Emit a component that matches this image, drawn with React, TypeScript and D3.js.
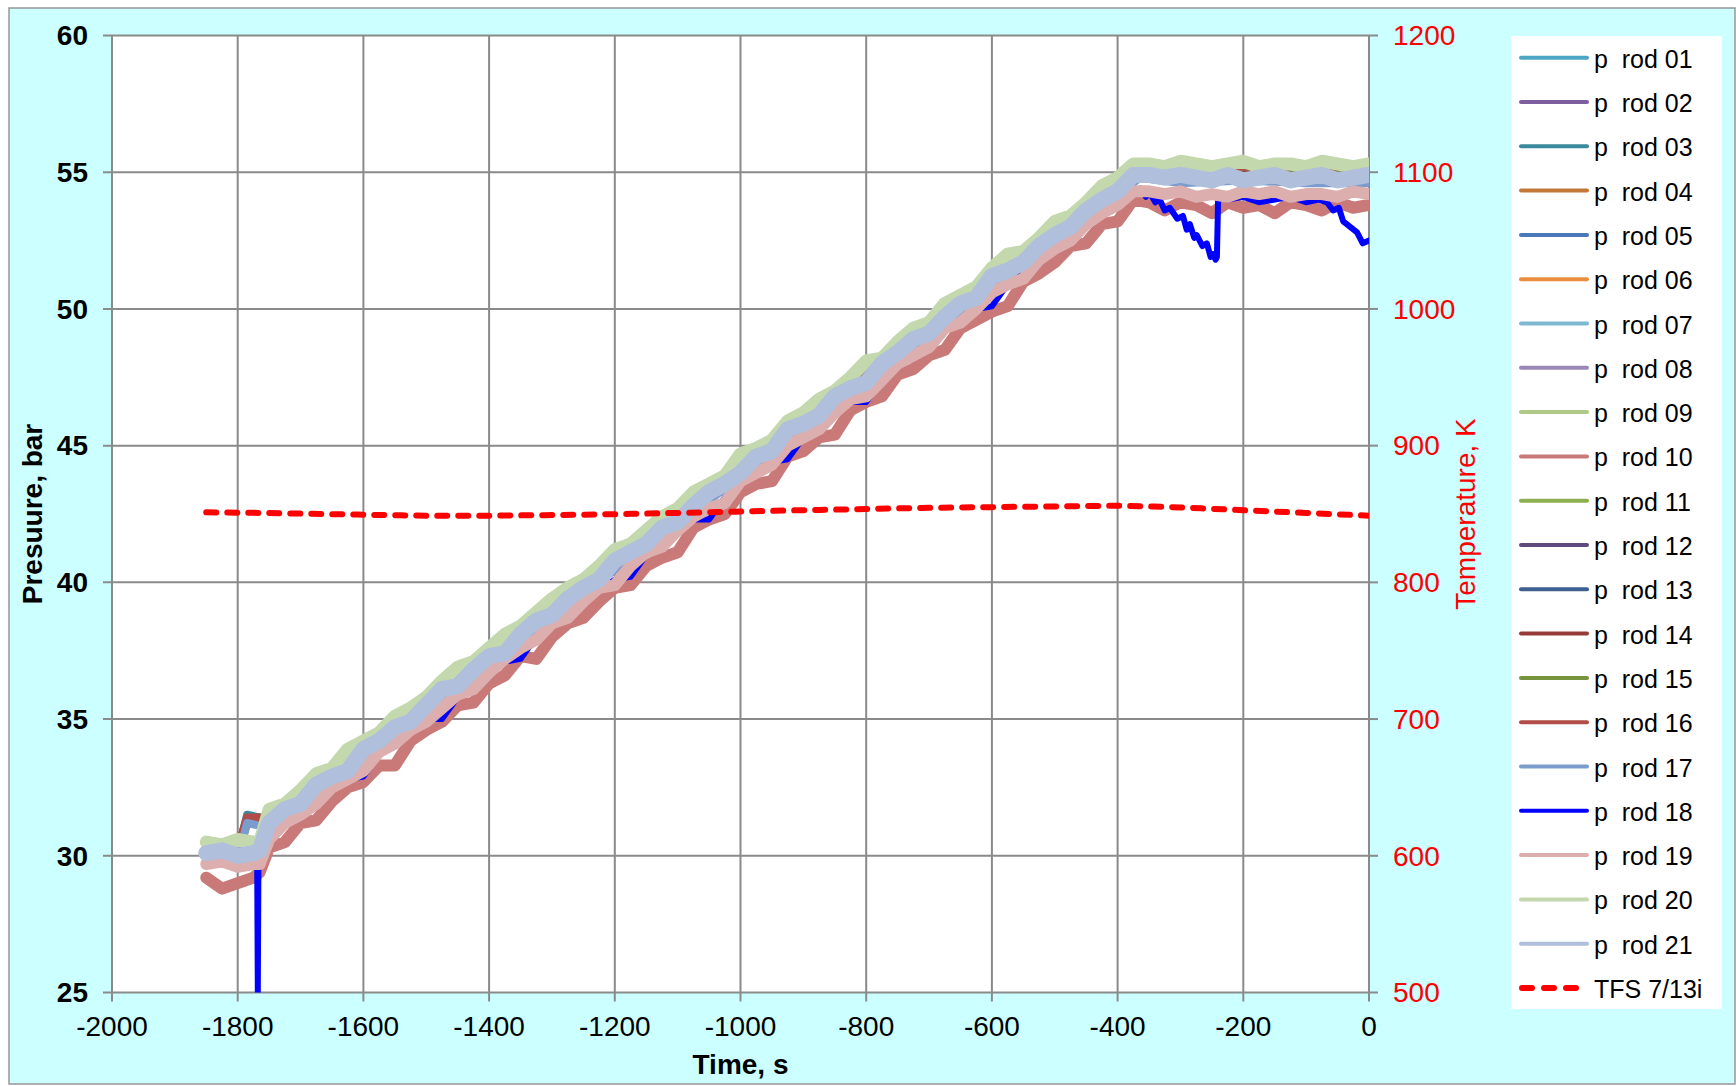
import React from "react";
import * as d3 from "d3";

// ---- canvas / plot frame -------------------------------------------------
const WIDTH = 1736;
const HEIGHT = 1086;
const PLOT = { left: 112, right: 1369, top: 35.5, bottom: 992.5 };
const FONT = "'Liberation Sans', Arial, Helvetica, sans-serif";

// ---- axes ----------------------------------------------------------------
const TIME_DOMAIN: [number, number] = [-2000, 0];
const PRESSURE_DOMAIN: [number, number] = [25, 60];
const TEMPERATURE_DOMAIN: [number, number] = [500, 1200];
const TIME_TICKS = [-2000, -1800, -1600, -1400, -1200, -1000, -800, -600, -400, -200, 0];
const PRESSURE_TICKS = [25, 30, 35, 40, 45, 50, 55, 60];
const TEMPERATURE_TICKS = [500, 600, 700, 800, 900, 1000, 1100, 1200];

// ---- sample times (s) ----------------------------------------------------
const FINE_TIMES = [-1850, -1825, -1800, -1775, -1765, ...d3.range(-1750, 1, 25)];
const COARSE_TIMES = [
  -1850, -1800, -1785, -1765, -1750, -1650, -1550, -1450, -1350, -1250, -1150, -1050,
  -950, -850, -750, -650, -550, -450, -364, -300, -200, -100, 0,
];
const ROD18_TIMES = [
  -1850, -1825, -1800, -1775, -1769, -1768, -1767, -1765,
  ...d3.range(-1750, -374, 25),
  -364, -355, -350, -340, -333, -325, -317, -305, -296, -290, -285, -278, -274, -265,
  -258, -252, -248, -244, -242, -240, -225, -200, -175, -150, -125, -100, -80, -67,
  -57, -48, -41, -30, -19, -10, 0,
];
const TFS_TIMES = d3.range(-1850, 1, 50);

// ---- rod internal pressures (bar) ----------------------------------------
const ROD_01 = [30.2,30.2,31.4,31.4,31.3,33.0,34.7,36.4,38.2,39.9,41.6,43.3,45.0,46.8,48.5,50.2,51.9,53.6,55.1,55.0,55.1,55.0,55.0];
const ROD_02 = [30.1,30.0,30.1,30.1,31.2,32.9,34.6,36.3,38.1,39.8,41.5,43.2,44.9,46.7,48.4,50.1,51.8,53.5,55.0,54.8,54.9,54.8,54.9];
const ROD_03 = [30.2,30.1,31.5,31.4,31.3,33.0,34.7,36.4,38.2,39.9,41.6,43.3,45.0,46.8,48.5,50.2,51.9,53.6,55.1,55.0,55.2,55.0,55.1];
const ROD_04 = [30.3,30.3,30.3,30.3,31.4,33.1,34.8,36.5,38.3,40.0,41.7,43.4,45.1,46.9,48.6,50.3,52.0,53.7,55.2,55.2,55.3,55.2,55.2];
const ROD_05 = [30.1,30.0,31.2,31.2,31.2,32.9,34.6,36.3,38.1,39.8,41.5,43.2,44.9,46.7,48.4,50.1,51.8,53.5,55.0,54.8,54.9,54.8,54.8];
const ROD_06 = [30.3,30.2,30.3,30.3,31.4,33.1,34.8,36.5,38.3,40.0,41.7,43.4,45.1,46.9,48.6,50.3,52.0,53.7,55.2,55.1,55.2,55.2,55.3];
const ROD_07 = [30.0,30.1,30.1,30.0,31.2,32.9,34.6,36.3,38.1,39.8,41.5,43.2,44.9,46.7,48.4,50.1,51.8,53.5,55.0,54.9,54.8,54.9,54.8];
const ROD_08 = [30.1,30.1,30.0,30.1,31.1,32.9,34.6,36.3,38.0,39.8,41.5,43.2,44.9,46.6,48.4,50.1,51.8,53.5,54.9,54.8,54.8,54.8,54.8];
const ROD_09 = [30.4,30.4,30.4,30.4,31.5,33.2,34.9,36.6,38.4,40.1,41.8,43.5,45.2,47.0,48.7,50.4,52.1,53.8,55.3,55.2,55.2,55.3,55.2];
const ROD_10 = [
  29.2,28.8,29.0,29.2,29.4,
  30.3,30.5,31.2,31.3,32.0,32.5,32.7,33.3,33.3,34.2,
  34.6,34.9,35.5,35.6,36.3,36.6,37.3,37.2,38.0,38.5,
  38.7,39.3,39.8,39.9,40.6,40.9,41.1,42.0,42.3,42.5,
  43.3,43.6,43.7,44.6,44.8,45.3,45.4,46.3,46.6,46.8,
  47.6,47.8,48.3,48.5,49.3,49.6,49.9,50.1,51.0,51.3,
  51.7,52.3,52.4,53.1,53.2,54.0,
  53.9,53.6,53.9,53.8,53.5,53.9,53.7,53.8,53.5,53.9,53.8,53.6,53.9,53.7,53.8,
];
const ROD_11 = [30.4,30.3,30.4,30.4,31.5,33.2,34.9,36.6,38.4,40.1,41.8,43.5,45.2,47.0,48.7,50.4,52.1,53.8,55.3,55.2,55.3,55.2,55.3];
const ROD_12 = [30.0,29.9,30.0,30.0,31.1,32.8,34.5,36.2,38.0,39.7,41.4,43.1,44.8,46.6,48.3,50.0,51.7,53.4,54.9,54.7,54.8,54.7,54.7];
const ROD_13 = [30.0,30.0,29.9,30.0,31.1,32.8,34.5,36.2,38.0,39.7,41.4,43.1,44.8,46.6,48.3,50.0,51.7,53.4,54.9,54.8,54.7,54.7,54.8];
const ROD_14 = [30.2,30.2,31.3,31.3,31.3,33.0,34.7,36.4,38.2,39.9,41.6,43.3,45.0,46.8,48.5,50.2,51.9,53.6,55.1,55.0,55.0,55.1,55.0];
const ROD_15 = [30.3,30.3,30.2,30.3,31.4,33.1,34.8,36.5,38.3,40.0,41.7,43.4,45.1,46.9,48.6,50.3,52.0,53.7,55.2,55.1,55.2,55.1,55.2];
const ROD_16 = [30.3,30.3,31.4,31.4,31.4,33.1,34.8,36.5,38.3,40.0,41.7,43.4,45.1,46.9,48.6,50.3,52.0,53.7,55.2,55.3,55.2,55.2,55.2];
const ROD_17 = [29.9,29.9,31.2,31.1,31.0,32.7,34.4,36.1,37.9,39.6,41.3,43.0,44.7,46.5,48.2,49.9,51.6,53.3,54.8,54.6,54.7,54.6,54.6];
const ROD_18 = [
  29.9,29.8,29.9,29.8,29.8,25.0,29.9,29.9,
  30.7,31.1,31.5,31.9,32.4,32.8,32.9,33.7,34.1,34.5,
  35.0,35.0,35.8,36.3,36.7,37.1,37.2,38.0,38.4,38.8,
  39.3,39.7,40.1,40.2,41.0,41.4,41.9,42.3,42.3,43.1,
  43.6,44.0,44.4,44.5,45.3,45.7,46.2,46.6,46.6,47.4,
  47.9,48.3,48.7,49.2,49.6,50.0,50.1,50.9,51.3,51.7,
  52.2,52.6,53.0,53.5,53.9,54.3,
  54.4,54.1,54.3,53.9,54.0,53.6,53.7,53.3,53.4,52.9,53.1,52.6,52.7,52.3,
  52.4,51.9,52.0,51.8,51.9,54.1,54.0,54.1,53.9,54.0,54.1,53.9,54.0,53.9,
  53.6,53.7,53.2,53.0,52.8,52.4,52.5,
];
const ROD_19 = [
  29.7,29.8,29.6,29.7,29.7,
  30.6,31.2,31.5,31.9,32.5,32.8,33.1,33.8,34.1,34.6,
  34.9,35.4,35.9,36.1,36.7,37.2,37.6,37.9,38.5,38.7,
  39.3,39.8,39.9,40.6,41.1,41.3,41.9,42.4,42.7,42.9,
  43.7,44.0,44.3,45.0,45.3,45.6,46.2,46.7,46.8,47.4,
  48.0,48.3,48.6,49.3,49.5,50.0,50.6,50.9,51.1,51.8,
  52.2,52.5,53.1,53.5,53.8,54.3,
  54.3,54.2,54.3,54.1,54.2,54.1,54.3,54.2,54.3,54.1,54.2,54.2,54.1,54.3,54.2,
];
const ROD_20 = [
  30.5,30.4,30.6,30.5,30.5,
  31.7,31.9,32.4,33.0,33.2,33.9,34.2,34.5,35.1,35.4,
  35.8,36.4,36.9,37.1,37.6,38.1,38.4,38.9,39.4,39.8,
  40.1,40.6,41.2,41.4,41.9,42.4,42.7,43.3,43.6,43.9,
  44.7,44.9,45.2,45.9,46.2,46.7,47.0,47.5,48.1,48.2,
  48.8,49.3,49.5,50.2,50.5,50.8,51.5,52.0,52.1,52.6,
  53.2,53.4,53.9,54.5,54.8,55.3,
  55.3,55.2,55.4,55.3,55.2,55.3,55.4,55.2,55.3,55.3,55.2,55.4,55.3,55.2,55.3,
];
const ROD_21 = [
  30.1,30.2,30.0,30.1,30.2,
  31.2,31.7,31.9,32.6,32.9,33.1,33.9,34.2,34.7,34.9,
  35.5,36.1,36.2,36.8,37.3,37.4,38.1,38.6,38.8,39.4,
  39.8,40.1,40.8,41.1,41.4,42.0,42.2,42.8,43.3,43.6,
  44.0,44.6,44.8,45.6,45.8,46.1,46.8,47.1,47.3,48.0,
  48.4,48.9,49.1,49.7,50.2,50.4,51.2,51.4,51.7,52.3,
  52.7,53.0,53.6,54.0,54.3,54.9,
  54.9,54.8,54.9,54.8,54.7,54.9,54.7,54.8,54.9,54.7,54.8,54.9,54.7,54.8,54.9,
];

// ---- fuel simulator temperature (K) --------------------------------------
const TFS_7_13I = [
  851.2, 851.0, 850.7, 850.3, 849.9, 849.5, 849.1, 848.8, 848.7, 848.8,
  849.0, 849.2, 849.5, 849.9, 850.3, 850.8, 851.3, 851.8, 852.3, 852.8,
  853.2, 853.7, 854.1, 854.5, 854.8, 855.0, 855.3, 855.5, 855.8, 856.0,
  855.5, 854.8, 853.8, 852.8, 851.8, 850.8, 849.8, 848.8,
];

// ---- series table --------------------------------------------------------
const ROD_NAMES = [
  "p  rod 01", "p  rod 02", "p  rod 03", "p  rod 04", "p  rod 05", "p  rod 06", "p  rod 07",
  "p  rod 08", "p  rod 09", "p  rod 10", "p  rod 11", "p  rod 12", "p  rod 13", "p  rod 14",
  "p  rod 15", "p  rod 16", "p  rod 17", "p  rod 18", "p  rod 19", "p  rod 20", "p  rod 21",
];
const ROD_VALUES = [
  ROD_01, ROD_02, ROD_03, ROD_04, ROD_05, ROD_06, ROD_07, ROD_08, ROD_09, ROD_10, ROD_11,
  ROD_12, ROD_13, ROD_14, ROD_15, ROD_16, ROD_17, ROD_18, ROD_19, ROD_20, ROD_21,
];
const ROD_TIMES = [
  COARSE_TIMES, COARSE_TIMES, COARSE_TIMES, COARSE_TIMES, COARSE_TIMES, COARSE_TIMES, COARSE_TIMES,
  COARSE_TIMES, COARSE_TIMES, FINE_TIMES, COARSE_TIMES, COARSE_TIMES, COARSE_TIMES, COARSE_TIMES,
  COARSE_TIMES, COARSE_TIMES, COARSE_TIMES, ROD18_TIMES, FINE_TIMES, FINE_TIMES, FINE_TIMES,
];
const ROD_COLORS = [
  "#4BA7C4", "#7D5FA0", "#3A899C", "#C47838", "#4A78B8", "#EB8D3F", "#7DB8D4",
  "#9B87B6", "#ADC887", "#C97A78", "#8DAF4F", "#5F4A7E", "#3D6090", "#963A38",
  "#77933D", "#B14C49", "#7B9CCC", "#0000FF", "#DDAEAE", "#C4D8AE", "#AFBFDC",
];
// drawn widths of the traces (noisy signals render as thick ribbons)
const ROD_WIDTHS = [8, 8, 8, 8, 8, 8, 8, 8, 8, 12, 8, 8, 8, 8, 8, 8, 8, 6, 12, 13, 16];

const GRID = "#8A8A8A";
const TFS_COLOR = "#FF0000";

export default function App() {
  const x = d3.scaleLinear().domain(TIME_DOMAIN).range([PLOT.left, PLOT.right]);
  const yP = d3.scaleLinear().domain(PRESSURE_DOMAIN).range([PLOT.bottom, PLOT.top]);
  const yT = d3.scaleLinear().domain(TEMPERATURE_DOMAIN).range([PLOT.bottom, PLOT.top]);

  const pLine = d3
    .line<[number, number]>()
    .x((d) => x(d[0]))
    .y((d) => yP(d[1]));
  const tLine = d3
    .line<[number, number]>()
    .x((d) => x(d[0]))
    .y((d) => yT(d[1]))
    .curve(d3.curveMonotoneX);

  const rods = ROD_NAMES.map((name, i) => ({
    name,
    color: ROD_COLORS[i],
    width: ROD_WIDTHS[i],
    points: d3.zip(ROD_TIMES[i], ROD_VALUES[i]) as [number, number][],
  }));
  const tfsPoints = d3.zip(TFS_TIMES, TFS_7_13I) as [number, number][];

  const legendX = 1511;
  const legendTop = 36;
  const legendStep = 44.3;
  const legendFirst = 57.7;

  const midY = (PLOT.top + PLOT.bottom) / 2;
  const midX = (PLOT.left + PLOT.right) / 2;

  return (
    <svg
      width={WIDTH}
      height={HEIGHT}
      style={{ position: "absolute", left: 0, top: 0, display: "block" }}
      fontFamily={FONT}
    >
      <rect x={0} y={0} width={WIDTH} height={HEIGHT} fill="#FFFFFF" />
      <rect x={9} y={8} width={1726} height={1076} fill="#CCFFFF" stroke="#969696" strokeWidth={1.5} />
      <rect
        x={PLOT.left}
        y={PLOT.top}
        width={PLOT.right - PLOT.left}
        height={PLOT.bottom - PLOT.top}
        fill="#FFFFFF"
      />

      <defs>
        <clipPath id="plot-clip">
          <rect x={PLOT.left} y={PLOT.top} width={PLOT.right - PLOT.left} height={PLOT.bottom - PLOT.top} />
        </clipPath>
      </defs>

      {/* grid */}
      <g stroke={GRID} strokeWidth={2}>
        {TIME_TICKS.map((t) => (
          <line key={"gx" + t} x1={x(t)} x2={x(t)} y1={PLOT.top} y2={PLOT.bottom + 9} />
        ))}
        {PRESSURE_TICKS.map((p) => (
          <line key={"gy" + p} x1={PLOT.left - 9} x2={PLOT.right} y1={yP(p)} y2={yP(p)} />
        ))}
        {TEMPERATURE_TICKS.map((k) => (
          <line key={"ty" + k} x1={PLOT.right} x2={PLOT.right + 9} y1={yT(k)} y2={yT(k)} />
        ))}
      </g>

      {/* rod pressures and simulator temperature */}
      <g clipPath="url(#plot-clip)" fill="none" strokeLinecap="round" strokeLinejoin="round">
        {rods.map((r) => (
          <path key={r.name} d={pLine(r.points) ?? ""} stroke={r.color} strokeWidth={r.width} />
        ))}
        <path
          d={tLine(tfsPoints) ?? ""}
          stroke={TFS_COLOR}
          strokeWidth={6}
          strokeDasharray="10 11"
          strokeLinecap="round"
        />
      </g>

      {/* left axis labels */}
      <g fontSize={28} fontWeight="bold" fill="#000" textAnchor="end">
        {PRESSURE_TICKS.map((p) => (
          <text key={"lp" + p} x={88} y={yP(p)} dy="0.35em">
            {p}
          </text>
        ))}
      </g>
      {/* right axis labels */}
      <g fontSize={28} fill={TFS_COLOR} textAnchor="start">
        {TEMPERATURE_TICKS.map((k) => (
          <text key={"rk" + k} x={1393} y={yT(k)} dy="0.35em">
            {k}
          </text>
        ))}
      </g>
      {/* bottom axis labels */}
      <g fontSize={28} fill="#000" textAnchor="middle">
        {TIME_TICKS.map((t) => (
          <text key={"bt" + t} x={x(t)} y={1036}>
            {String(t)}
          </text>
        ))}
      </g>

      {/* axis titles */}
      <text x={midX} y={1074} fontSize={28} fontWeight="bold" textAnchor="middle">
        Time, s
      </text>
      <text
        transform={`translate(42, ${midY}) rotate(-90)`}
        fontSize={28}
        fontWeight="bold"
        textAnchor="middle"
      >
        Presuure, bar
      </text>
      <text
        transform={`translate(1475, ${midY}) rotate(-90)`}
        fontSize={28}
        fill={TFS_COLOR}
        textAnchor="middle"
      >
        Temperature, K
      </text>

      {/* legend */}
      <rect x={legendX} y={legendTop} width={211} height={973} fill="#FFFFFF" />
      <g fontSize={25} fill="#000">
        {rods.map((r, i) => {
          const ly = legendFirst + i * legendStep;
          return (
            <g key={"lg" + r.name}>
              <line x1={1521} x2={1587} y1={ly} y2={ly} stroke={r.color} strokeWidth={4} strokeLinecap="round" />
              <text x={1594} y={ly + 10} style={{ whiteSpace: "pre" }}>
                {r.name}
              </text>
            </g>
          );
        })}
        {(() => {
          const ly = legendFirst + rods.length * legendStep;
          return (
            <g>
              <line
                x1={1522}
                x2={1577}
                y1={ly}
                y2={ly}
                stroke={TFS_COLOR}
                strokeWidth={6}
                strokeDasharray="10 12"
                strokeLinecap="round"
              />
              <text x={1594} y={ly + 10} style={{ whiteSpace: "pre" }}>
                TFS 7/13i
              </text>
            </g>
          );
        })()}
      </g>
    </svg>
  );
}
